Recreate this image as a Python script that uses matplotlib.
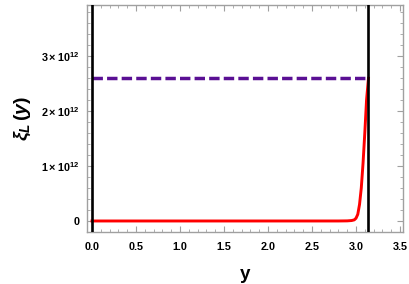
import matplotlib
matplotlib.use("Agg")
import matplotlib.pyplot as plt
from matplotlib.ticker import MultipleLocator

plt.rcParams['font.family'] = ['Liberation Sans', 'DejaVu Sans']
plt.rcParams['mathtext.fontset'] = 'custom'
plt.rcParams['mathtext.rm'] = 'Liberation Sans:bold'
plt.rcParams['mathtext.it'] = 'Liberation Sans:bold:italic'
plt.rcParams['mathtext.bf'] = 'Liberation Sans:bold'

# red curve (units of 1e12)
y_red = [0.0, 0.5, 1.0, 1.5, 2.0, 2.5, 2.8, 2.9, 2.95, 2.98, 3.0, 3.02, 3.04,
         3.06, 3.08, 3.10, 3.12, 3.1416]
xi_red = [0.0, 0.0, 0.0, 0.0, 0.0, 0.0, 0.0, 0.002, 0.008, 0.02, 0.05, 0.12,
          0.3, 0.6, 1.05, 1.6, 2.2, 2.59]

# dashed level (units of 1e12)
y_dash = [0.0, 3.1416]
xi_dash = [2.59, 2.59]

# black vertical boundaries
y_walls = [0.0, 3.1416]

yticks = [0, 1, 2, 3]
ytick_labels = ['0', r'$1\times10^{12}$', r'$2\times10^{12}$', r'$3\times10^{12}$']
xticks = [0.0, 0.5, 1.0, 1.5, 2.0, 2.5, 3.0, 3.5]

fig = plt.figure(figsize=(4.09, 2.84), dpi=100)
ax = fig.add_axes([87/409, 1-232/284, 316/409, 227/284])

ax.plot(y_red, xi_red, color='#ff0000', lw=2.1, zorder=3)
ax.plot(y_dash, xi_dash, color='#5a1094', lw=2.5, dashes=(3.0, 1.2), zorder=4)
for w in y_walls:
    ax.axvline(w, color='black', lw=1.9, zorder=5)

ax.set_xlim(-0.057, 3.534)
ax.set_ylim(-0.2, 3.92)
ax.set_xticks(xticks)
ax.set_xticklabels(['%.1f' % t for t in xticks])
ax.set_yticks(yticks)
ax.set_yticklabels(ytick_labels)
ax.xaxis.set_minor_locator(MultipleLocator(0.1))
ax.yaxis.set_minor_locator(MultipleLocator(0.2))

for s in ax.spines.values():
    s.set_color('#a0a0a0')
    s.set_linewidth(1.0)
ax.tick_params(which='both', direction='in', top=True, right=True,
               color='#a0a0a0', labelsize=7.8)
ax.tick_params(axis='x', pad=7)
ax.tick_params(axis='y', pad=5)
ax.tick_params(which='major', length=4, width=0.8)
ax.tick_params(which='minor', length=2.2, width=0.6)
for lab in ax.get_xticklabels() + ax.get_yticklabels():
    lab.set_fontweight('bold')

ax.set_xlabel('y', fontsize=13.5, fontweight='bold', labelpad=10)
ax.set_ylabel(r'$\xi_L\,(y)$', fontsize=14, labelpad=6)

fig.savefig('out.png', dpi=100)
